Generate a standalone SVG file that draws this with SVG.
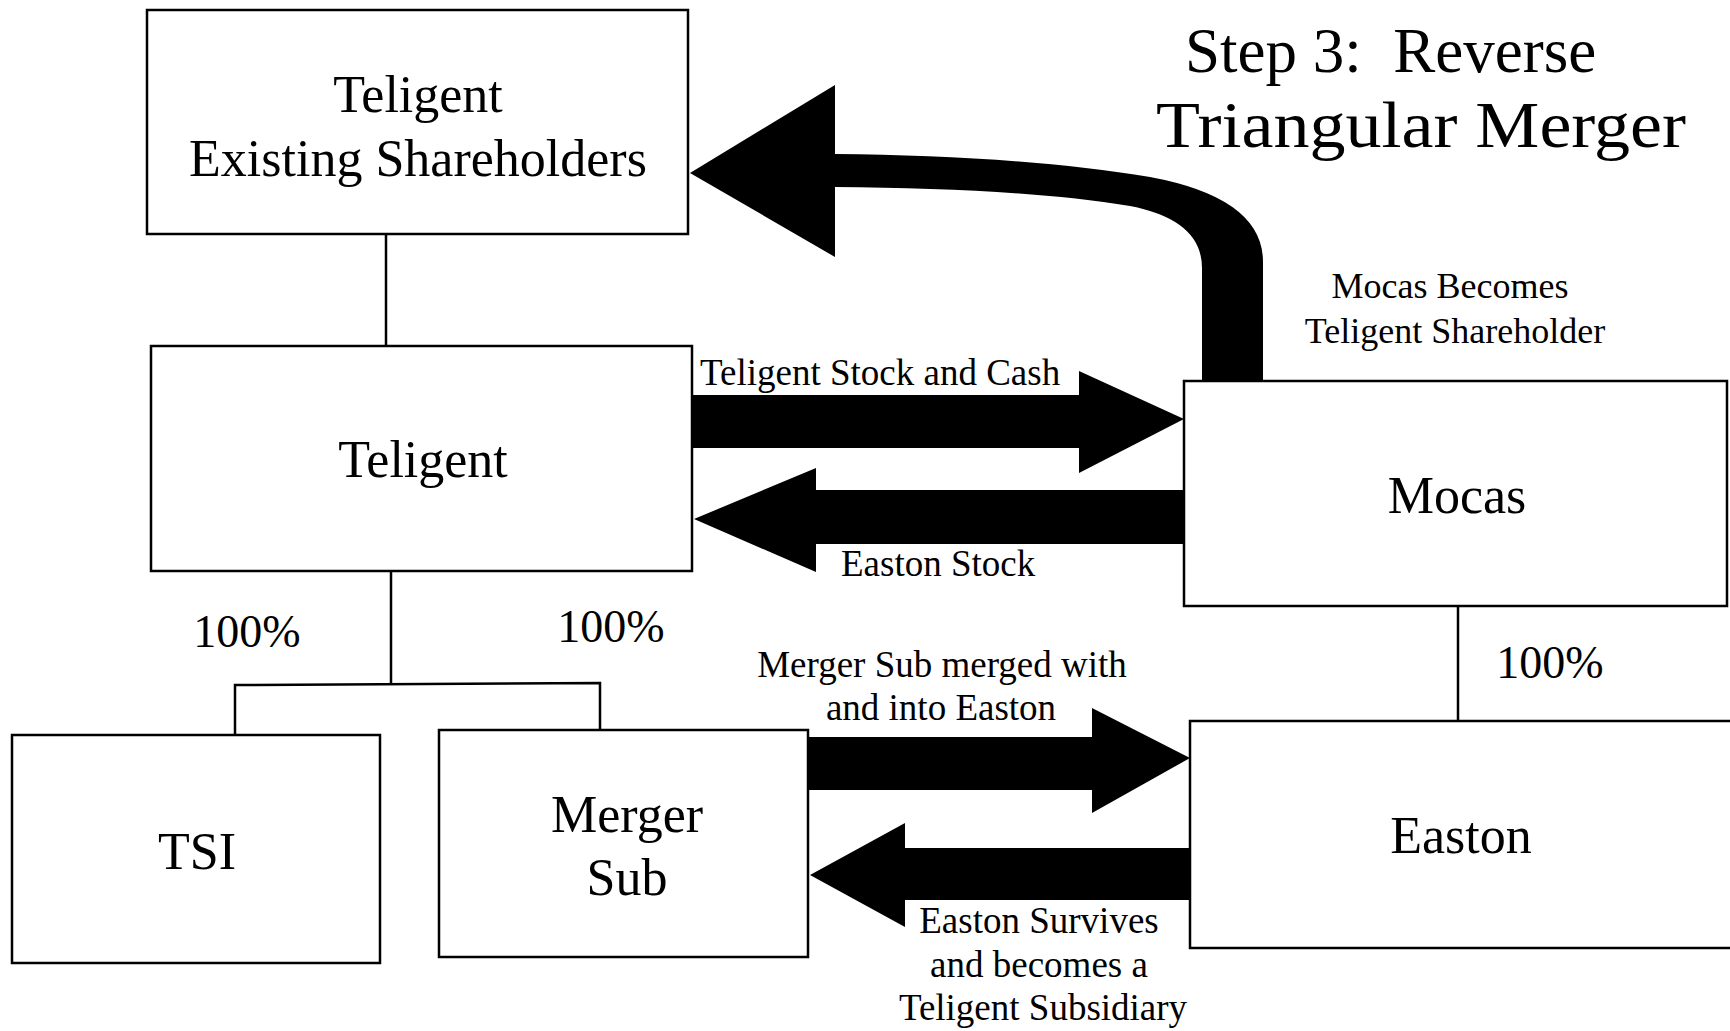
<svg xmlns="http://www.w3.org/2000/svg" width="1730" height="1031" viewBox="0 0 1730 1031">
<style>
.box{fill:#fff;stroke:#000;stroke-width:2.5}
.ln{fill:none;stroke:#000;stroke-width:2.5}
.arr{fill:#000;stroke:none}
text{font-family:"Liberation Serif","Times New Roman",serif;fill:#000}
.big{font-size:52px;text-anchor:middle}
.pct{font-size:46px;text-anchor:middle}
.lbl{font-size:37px}
.mid{text-anchor:middle}
.title{font-size:63px;white-space:pre}
</style>
<rect width="1730" height="1031" fill="#fff"/>
<g id="connectors">
<line class="ln" x1="386" y1="234" x2="386" y2="347"/>
<line class="ln" x1="391" y1="571" x2="391" y2="684"/>
<polyline class="ln" points="235,735 235,685 600,683 600,730"/>
<line class="ln" x1="1458" y1="606" x2="1458" y2="721"/>
<path id="arrow-stock-cash" class="arr" d="M692,395 L1079,395 L1079,371 L1184,419 L1079,473 L1079,448 L692,448 Z"/>
<path id="arrow-easton-stock" class="arr" d="M1184,490 L816,490 L816,468 L694,519 L816,572 L816,544 L1184,544 Z"/>
<path id="arrow-merged" class="arr" d="M807,737 L1092,737 L1092,708 L1190,758 L1092,813 L1092,790 L807,790 Z"/>
<path id="arrow-survives" class="arr" d="M1190,848 L905,848 L905,823 L810,875 L905,927 L905,900 L1190,900 Z"/>
<path id="arrow-mocas-shareholder" class="arr" d="M690,173 L835,85 L835,154 C950,155 1060,162 1150,177 Q1263,198 1263,262 L1263,385 L1202,385 L1202,268 Q1202,220 1130,206 C1050,193 950,188 835,187 L835,257 Z"/>
<text class="lbl" x="700" y="385">Teligent Stock and Cash</text>
<text class="lbl" x="841" y="576">Easton Stock</text>
<text class="lbl mid" x="942" y="677">Merger Sub merged with</text>
<text class="lbl mid" x="941" y="720">and into Easton</text>
<text class="lbl mid" x="1039" y="933">Easton Survives</text>
<text class="lbl mid" x="1039" y="977">and becomes a</text>
<text class="lbl mid" x="1043" y="1020">Teligent Subsidiary</text>
<text class="lbl mid" x="1450" y="298" style="font-size:36px">Mocas Becomes</text>
<text class="lbl mid" x="1455" y="343" style="font-size:36px">Teligent Shareholder</text>
<text class="pct" x="247" y="647">100%</text>
<text class="pct" x="611" y="642">100%</text>
<text class="pct" x="1550" y="678">100%</text>
</g>
<g id="node-existing-shareholders">
<rect class="box" x="147" y="10" width="541" height="224"/>
<text class="big" x="418" y="112">Teligent</text>
<text class="big" x="418" y="176">Existing Shareholders</text>
</g>
<g id="node-teligent">
<rect class="box" x="151" y="346" width="541" height="225"/>
<text class="big" x="423" y="477">Teligent</text>
</g>
<g id="node-tsi">
<rect class="box" x="12" y="735" width="368" height="228"/>
<text class="big" x="197" y="869">TSI</text>
</g>
<g id="node-merger-sub">
<rect class="box" x="439" y="730" width="369" height="227"/>
<text class="big" x="627" y="832">Merger</text>
<text class="big" x="627" y="895">Sub</text>
</g>
<g id="node-mocas">
<rect class="box" x="1184" y="381" width="543" height="225"/>
<text class="big" x="1457" y="513">Mocas</text>
</g>
<g id="node-easton">
<rect class="box" x="1190" y="721" width="545" height="227"/>
<text class="big" x="1461" y="853">Easton</text>
</g>
<g id="title">
<text class="title" x="1185" y="72">Step 3:  Reverse</text>
<text class="title" x="1156" y="147" style="font-size:66px" textLength="530" lengthAdjust="spacingAndGlyphs">Triangular Merger</text>
</g>
</svg>
